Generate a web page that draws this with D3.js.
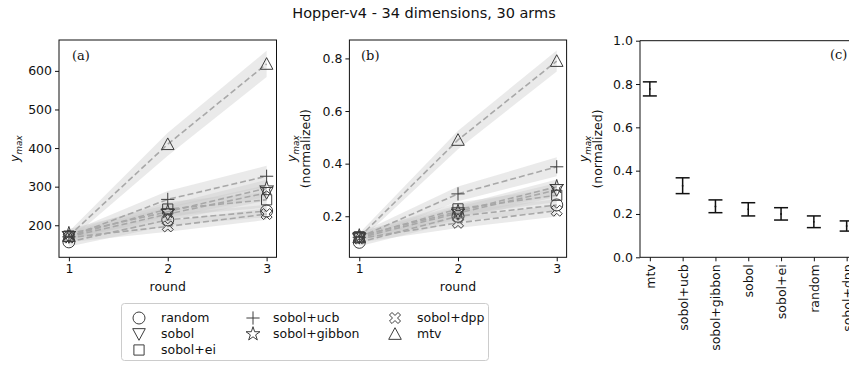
<!DOCTYPE html>
<html><head><meta charset="utf-8">
<script src="https://cdn.jsdelivr.net/npm/d3@7"></script>
<style>
body{margin:0;background:#fff;}
svg{display:block;font-family:"DejaVu Sans",sans-serif;}
</style></head>
<body><svg id="c" width="849" height="365"></svg>
<script>
const title = "Hopper-v4 - 34 dimensions, 30 arms";
const methods = ["random","sobol","sobol+ei","sobol+ucb","sobol+gibbon","sobol+dpp","mtv"];
const markers = ["circle","triDown","square","plus","star","xcross","triUp"];
const rounds = [1,2,3];
// panel (a): raw y_max
const rawMean = {
  "random":[157,214,237],
  "sobol":[170,229,284],
  "sobol+ei":[172,242,266],
  "sobol+ucb":[170,267,327],
  "sobol+gibbon":[178,235,296],
  "sobol+dpp":[168,197,229],
  "mtv":[172,410,618]
};
const rawErr = {
  "random":[12,15,16],
  "sobol":[12,18,20],
  "sobol+ei":[12,18,20],
  "sobol+ucb":[12,22,27],
  "sobol+gibbon":[12,18,22],
  "sobol+dpp":[12,14,15],
  "mtv":[12,30,34]
};
// panel (b): normalized y_max
const normMean = {
  "random":[0.101,0.200,0.243],
  "sobol":[0.118,0.212,0.300],
  "sobol+ei":[0.122,0.228,0.280],
  "sobol+ucb":[0.120,0.285,0.388],
  "sobol+gibbon":[0.125,0.218,0.312],
  "sobol+dpp":[0.115,0.175,0.221],
  "mtv":[0.120,0.490,0.790]
};
const normErr = {
  "random":[0.015,0.02,0.022],
  "sobol":[0.015,0.024,0.026],
  "sobol+ei":[0.015,0.024,0.026],
  "sobol+ucb":[0.015,0.028,0.036],
  "sobol+gibbon":[0.015,0.024,0.028],
  "sobol+dpp":[0.015,0.02,0.022],
  "mtv":[0.015,0.035,0.04]
};
// panel (c): ranking
const rankCats = ["mtv","sobol+ucb","sobol+gibbon","sobol","sobol+ei","random","sobol+dpp"];
const rankMean = [0.777,0.330,0.235,0.222,0.200,0.164,0.145];
const rankLow  = [0.745,0.294,0.206,0.191,0.172,0.137,0.121];
const rankHigh = [0.810,0.367,0.265,0.252,0.229,0.191,0.168];
const ticksA = [200,300,400,500,600];
const ticksB = [0.2,0.4,0.6,0.8];
const ticksC = [0.0,0.2,0.4,0.6,0.8,1.0];

const svg = d3.select("#c");
const FS = 12.5;
const edge = "#3d3d3d";

function markerPath(type, s){
  const r = s/2;
  switch(type){
    case "circle": return d3.symbol(d3.symbolCircle, Math.PI*r*r)();
    case "square": return d3.symbol(d3.symbolSquare, (s*0.85)*(s*0.85))();
    case "triUp": { const h=r*1.05; return `M0,${-h}L${h},${h*0.85}L${-h},${h*0.85}Z`; }
    case "triDown": { const h=r*1.05; return `M0,${h}L${h},${-h*0.85}L${-h},${-h*0.85}Z`; }
    case "plus": { const h=r*1.1; return `M${-h},0L${h},0M0,${-h}L0,${h}`; }
    case "star": return d3.symbol(d3.symbolStar, s*s*0.42)();
    case "xcross": {
      const a=r*0.92, w=r*0.42;
      const pts=[[0,-w],[a-w,-a],[a,-a+w],[w,0],[a,a-w],[a-w,a],[0,w],[-a+w,a],[-a,a-w],[-w,0],[-a,-a+w],[-a+w,-a]];
      return "M"+pts.map(p=>p.join(",")).join("L")+"Z";
    }
  }
}

function drawMarker(g, type, x, y, s){
  g.append("path").attr("d", markerPath(type,s))
    .attr("transform",`translate(${x},${y})`)
    .attr("fill","none").attr("stroke",edge).attr("stroke-width",1);
}

function yLabel(g, x, y, lines){
  const t = g.append("text").attr("transform",`translate(${x},${y}) rotate(-90)`)
    .attr("text-anchor","middle").attr("font-size",FS).attr("fill","#111");
  if(lines===1){
    const tt=t.append("tspan");
    tt.append("tspan").attr("font-style","italic").text("y");
    tt.append("tspan").attr("font-style","italic").attr("font-size",FS*0.7).attr("dy",3).text("max");
  } else {
    const t1=t.append("tspan").attr("x",0).attr("dy",-FS*0.45);
    t1.append("tspan").attr("font-style","italic").text("y");
    t1.append("tspan").attr("font-style","italic").attr("font-size",FS*0.7).attr("dy",3).text("max");
    t.append("tspan").attr("x",0).attr("dy",FS*1.05-3).text("(normalized)");
  }
}

function linePanel(opts){
  const {left,right,top,bottom,ydom,ticks,fmt,means,errs,tag,tagX,ylabX,ylabLines} = opts;
  const g = svg.append("g");
  const x = d3.scaleLinear().domain([0.9,3.1]).range([left,right]);
  const y = d3.scaleLinear().domain(ydom).range([bottom,top]);
  const clipId = "clip"+tag.replace(/[()]/g,"");
  svg.append("clipPath").attr("id",clipId).append("rect")
    .attr("x",left).attr("y",top).attr("width",right-left).attr("height",bottom-top);
  const plot = g.append("g").attr("clip-path",`url(#${clipId})`);
  methods.forEach(m=>{
    const area = d3.area().x((d,i)=>x(rounds[i]))
      .y0((d,i)=>y(means[m][i]-errs[m][i])).y1((d,i)=>y(means[m][i]+errs[m][i]));
    plot.append("path").attr("d",area(rounds)).attr("fill","#c8c8c8").attr("fill-opacity",0.38);
  });
  methods.forEach(m=>{
    const line = d3.line().x((d,i)=>x(rounds[i])).y((d,i)=>y(means[m][i]));
    plot.append("path").attr("d",line(rounds)).attr("fill","none")
      .attr("stroke","#a8a8a8").attr("stroke-width",1.6).attr("stroke-dasharray","6,3");
  });
  methods.forEach((m,k)=>{
    rounds.forEach((r,i)=>drawMarker(plot, markers[k], x(r), y(means[m][i]), 12));
  });
  const ax = g.append("g").attr("transform",`translate(0,${bottom})`)
    .call(d3.axisBottom(x).tickValues(rounds).tickFormat(d3.format("d")).tickSize(4).tickPadding(3));
  const ay = g.append("g").attr("transform",`translate(${left},0)`)
    .call(d3.axisLeft(y).tickValues(ticks).tickFormat(fmt).tickSize(4).tickPadding(3));
  [ax,ay].forEach(a=>{a.select(".domain").remove(); a.selectAll("text").attr("font-size",FS).attr("fill","#111").attr("font-family","DejaVu Sans");
    a.selectAll("line").attr("stroke","#111");});
  g.append("rect").attr("x",left).attr("y",top).attr("width",right-left).attr("height",bottom-top)
    .attr("fill","none").attr("stroke","#111").attr("stroke-width",1);
  g.append("text").attr("x",(left+right)/2).attr("y",bottom+34).attr("text-anchor","middle")
    .attr("font-size",FS).attr("fill","#111").text("round");
  g.append("text").attr("x",tagX).attr("y",top+20).attr("font-family","DejaVu Serif")
    .attr("font-size",13).attr("fill","#111").text(tag);
  yLabel(g, ylabX, (top+bottom)/2, ylabLines);
}

svg.append("text").attr("x",424).attr("y",18).attr("text-anchor","middle")
  .attr("font-size",14.5).attr("fill","#111").text(title);

linePanel({left:59,right:276.5,top:40,bottom:257.3,ydom:[117,680],ticks:ticksA,fmt:d3.format("d"),
  means:rawMean,errs:rawErr,tag:"(a)",tagX:72,ylabX:19,ylabLines:1});
linePanel({left:349.4,right:566.6,top:40,bottom:257.3,ydom:[0.044,0.87],ticks:ticksB,fmt:d3.format(".1f"),
  means:normMean,errs:normErr,tag:"(b)",tagX:361,ylabX:302,ylabLines:2});

// panel (c)
(function(){
  const left=640, right=856.5, top=40.7, bottom=257.3;
  const g = svg.append("g");
  const x = d3.scaleLinear().domain([-0.3,6.3]).range([left,right]);
  const y = d3.scaleLinear().domain([0,1]).range([bottom,top]);
  rankCats.forEach((c,i)=>{
    const cx = x(i);
    g.append("line").attr("x1",cx).attr("x2",cx).attr("y1",y(rankLow[i])).attr("y2",y(rankHigh[i]))
      .attr("stroke","#111").attr("stroke-width",1.5);
    [rankLow[i],rankHigh[i]].forEach(v=>g.append("line").attr("x1",cx-7).attr("x2",cx+7)
      .attr("y1",y(v)).attr("y2",y(v)).attr("stroke","#111").attr("stroke-width",1.5));
    g.append("circle").attr("cx",cx).attr("cy",y(rankMean[i])).attr("r",0.9).attr("fill","#111");
  });
  const ay = g.append("g").attr("transform",`translate(${left},0)`)
    .call(d3.axisLeft(y).tickValues(ticksC).tickFormat(d3.format(".1f")).tickSize(4).tickPadding(3));
  const ax = g.append("g").attr("transform",`translate(0,${bottom})`)
    .call(d3.axisBottom(x).tickValues(d3.range(rankCats.length)).tickFormat(i=>rankCats[i]).tickSize(4).tickPadding(3));
  ax.selectAll("text").attr("transform","rotate(-90)").attr("text-anchor","end")
    .attr("x",-7).attr("y",0).attr("dy","0.35em");
  [ax,ay].forEach(a=>{a.select(".domain").remove(); a.selectAll("text").attr("font-size",FS).attr("fill","#111").attr("font-family","DejaVu Sans");
    a.selectAll("line").attr("stroke","#111");});
  g.append("path").attr("d",`M${right},${top}H${left}V${bottom}H${right}`).attr("fill","none")
    .attr("stroke","#111").attr("stroke-width",1);
  g.append("text").attr("x",830).attr("y",top+18).attr("font-family","DejaVu Serif")
    .attr("font-size",13).attr("fill","#111").text("(c)");
  yLabel(g, 594, (top+bottom)/2, 2);
})();

// legend (matplotlib ncol=3 fills columns 3,2,2)
(function(){
  const g = svg.append("g");
  g.append("rect").attr("x",121.5).attr("y",303.5).attr("width",367).attr("height",57).attr("rx",3)
    .attr("fill","#fff").attr("stroke","#ccc").attr("stroke-width",1);
  const colX = [139,253,395], textX=[161,273,417], rowY=[318,334,350];
  const slots = [[0,0],[0,1],[0,2],[1,0],[1,1],[2,0],[2,1]];
  methods.forEach((m,k)=>{
    const [col,row] = slots[k];
    drawMarker(g, markers[k], colX[col], rowY[row], 12);
    g.append("text").attr("x",textX[col]).attr("y",rowY[row]).attr("dy","0.35em")
      .attr("font-size",FS).attr("fill","#111").text(m);
  });
})();
</script></body></html>
